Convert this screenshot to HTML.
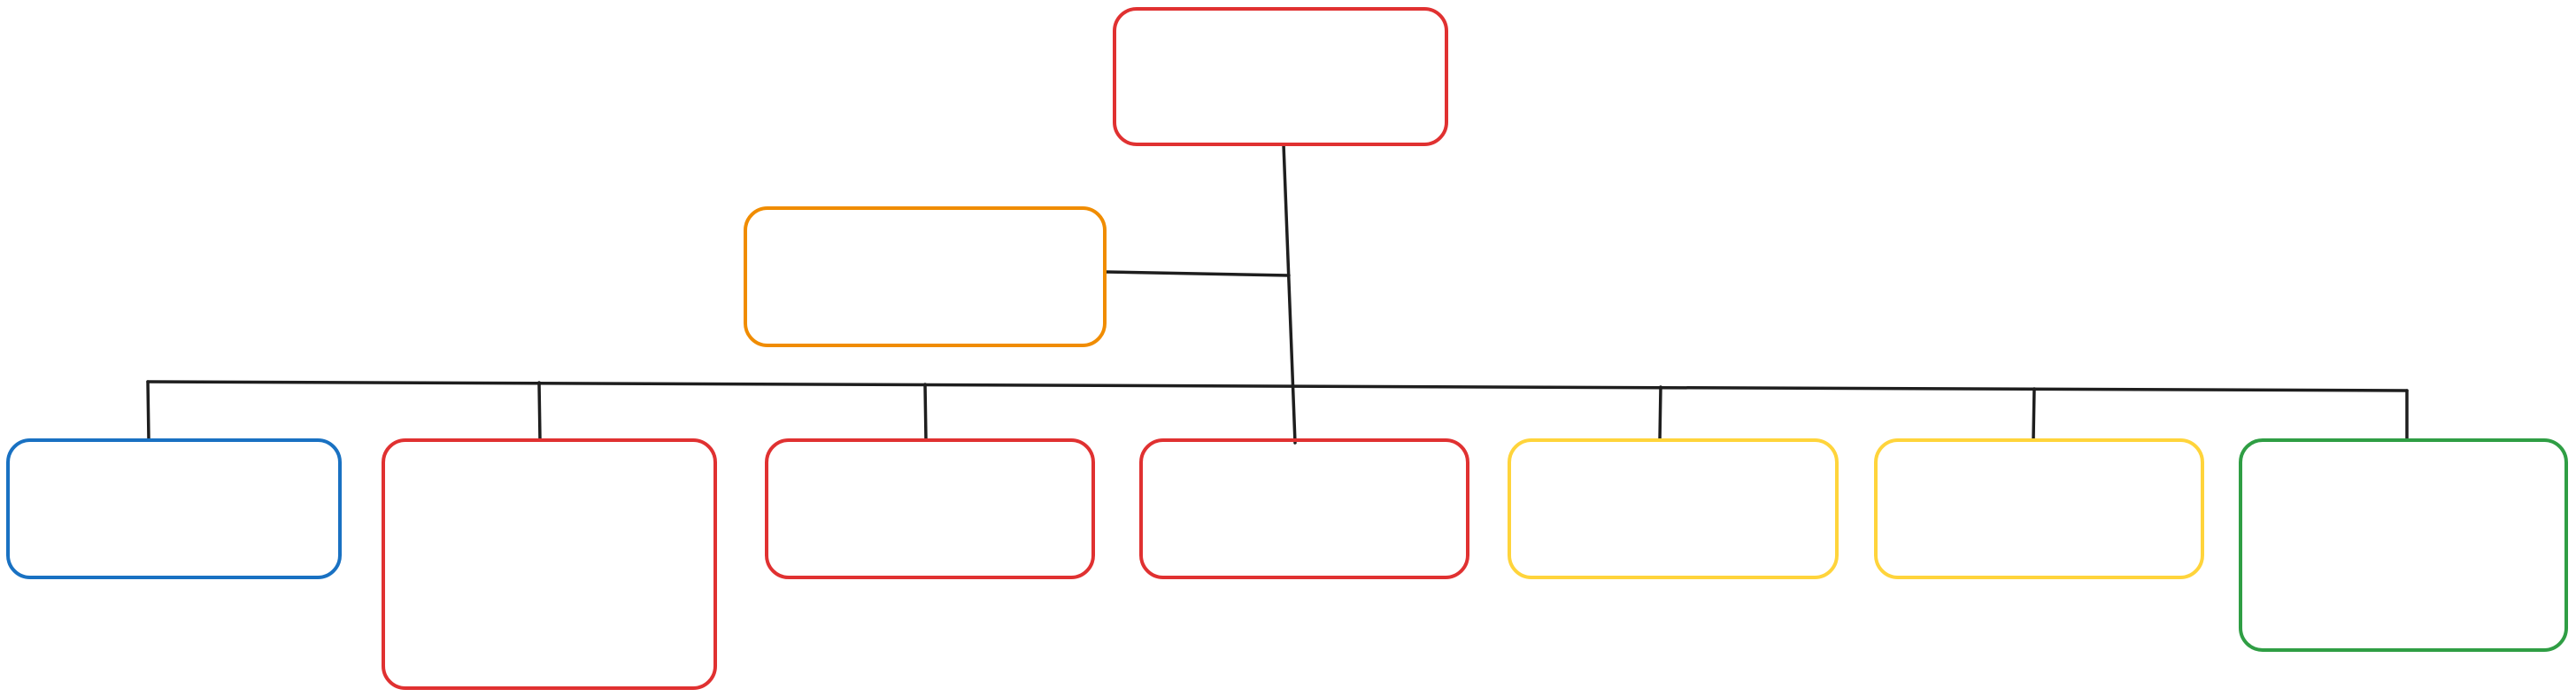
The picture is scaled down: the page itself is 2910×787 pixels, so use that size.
<!DOCTYPE html>
<html><head><meta charset="utf-8"><style>
html,body{margin:0;padding:0;background:#fff;}
svg{display:block;}
</style></head><body>
<svg width="2910" height="787" viewBox="0 0 2910 787" xmlns="http://www.w3.org/2000/svg">
<g fill="none" stroke-linecap="round" stroke-linejoin="round">
<g stroke="#1e1e1e" stroke-width="3.5">
<line x1="1450" y1="163" x2="1463" y2="500"/>
<line x1="1249" y1="307" x2="1456" y2="311"/>
<line x1="167" y1="431" x2="2719" y2="441"/>
<line x1="167" y1="431" x2="168" y2="497"/>
<line x1="609" y1="432" x2="610" y2="497"/>
<line x1="1045" y1="434" x2="1046" y2="497"/>
<line x1="1876" y1="437" x2="1875" y2="497"/>
<line x1="2298" y1="439" x2="2297" y2="497"/>
<line x1="2719" y1="441" x2="2719" y2="497"/>
</g>
<g stroke-width="4">
<rect x="1259" y="10" width="375" height="153" rx="25" stroke="#e03131"/>
<rect x="842" y="235" width="406" height="155" rx="25" stroke="#f08c00"/>
<rect x="9" y="497" width="375" height="155" rx="25" stroke="#1971c2"/>
<rect x="433" y="497" width="375" height="280" rx="25" stroke="#e03131"/>
<rect x="866" y="497" width="369" height="155" rx="25" stroke="#e03131"/>
<rect x="1289" y="497" width="369" height="155" rx="25" stroke="#e03131"/>
<rect x="1705" y="497" width="370" height="155" rx="25" stroke="#ffd43b"/>
<rect x="2119" y="497" width="369" height="155" rx="25" stroke="#ffd43b"/>
<rect x="2531" y="497" width="368" height="237" rx="25" stroke="#2f9e44"/>
</g>
</g>
</svg>
</body></html>
